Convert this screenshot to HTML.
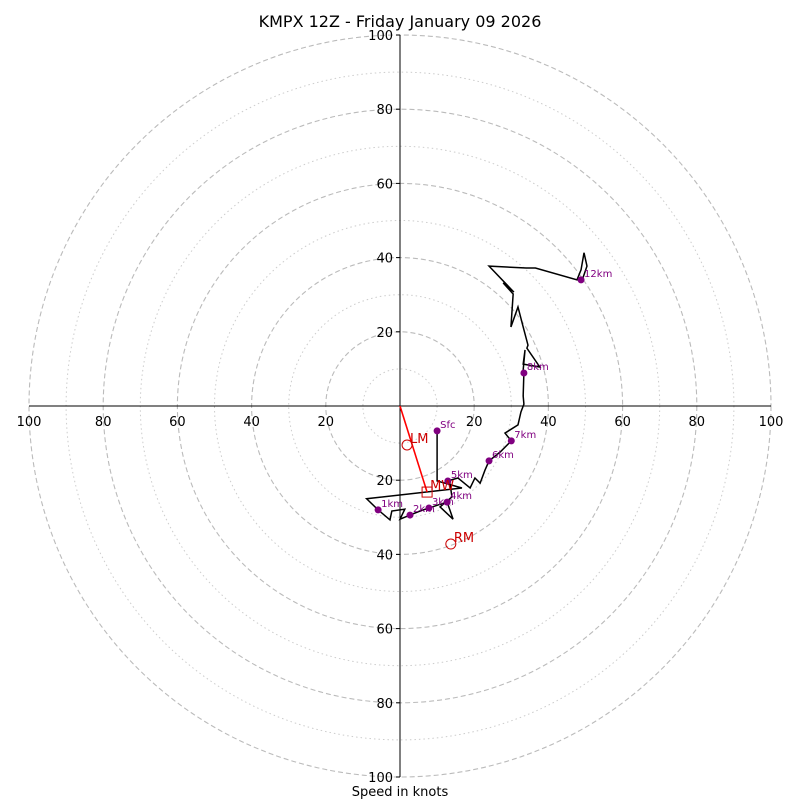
<!DOCTYPE html>
<html><head><meta charset="utf-8"><style>
body{margin:0;background:#fff}
svg{display:block;font-family:"DejaVu Sans","Liberation Sans",sans-serif}
</style></head><body>
<svg id="c" width="800" height="800">
<rect width="800" height="800" fill="#fff"/>
<text x="400" y="27" text-anchor="middle" font-size="16">KMPX 12Z - Friday January 09 2026</text>
<text x="400" y="796" text-anchor="middle" font-size="13">Speed in knots</text>
<g id="rings"></g><g id="axes"></g><g id="trace"></g><g id="marks"></g>
</svg>
<script>
const ringVals=[10,20,30,40,50,60,70,80,90,100];
const tickLabels=[20,40,60,80,100];
const traceU=[10,10,16.7,-9,-5.9,-2.7,-2.2,1.3,0,2.7,5.4,7.8,10.2,12.7,14.3,10.8,14,13.5,12.9,15.6,18.9,20.2,21.6,22.9,24,27,30,28.3,31.8,32.6,33.4,33.2,33.4,33.2,33.7,33.2,37.7,34.2,34.5,33.2,31.8,29.9,30.5,27.8,30.7,24,34,36.5,47.7,48.8,49.6,50.4,49.3];
const traceV=[-6.7,-20.2,-22.1,-25,-28,-30.7,-28.3,-27.8,-30.5,-29.4,-28.3,-27.5,-26.7,-25.9,-30.5,-27.2,-24.5,-21,-20.2,-19.4,-22.1,-19.4,-20.8,-17.3,-14.8,-12.4,-9.4,-7.3,-5.1,-1.6,0.5,2.7,9.2,9.7,15.1,11.3,10.5,15.6,16.4,21.3,26.7,21.3,30.2,33.2,30.7,37.7,37.2,37.2,34,36.7,41.3,37.7,34.5];
const levelNames=['Sfc','1km','2km','3km','4km','5km','6km','7km','8km','12km'];
const levelU=[10,-5.9,2.7,7.8,12.7,12.9,24,30,33.4,48.8];
const levelV=[-6.7,-28,-29.4,-27.5,-25.9,-20.2,-14.8,-9.4,8.9,34];
const motionNames=['LM','MW','RM'];
const motionU=[1.9,7.3,13.7];
const motionV=[-10.5,-23.2,-37.2];
const CX=400,CY=406,S=3.71;
const X=u=>CX+u*S, Y=v=>CY-v*S;
const NS='http://www.w3.org/2000/svg';
function mk(t,p,a){const e=document.createElementNS(NS,t);for(const k in a)e.setAttribute(k,a[k]);p.appendChild(e);return e;}
const rings=document.getElementById('rings');
ringVals.forEach(r=>{
 const major=r%20===0;
 const e=mk('circle',rings,{cx:CX,cy:CY,r:r*S,fill:'none',stroke:major?'#bbb':'#ccc','stroke-width':major?1.1:1,'stroke-dasharray':major?'5,3':'1.5,3'});
 
 
});
const ax=document.getElementById('axes');
mk('line',ax,{x1:X(-100),y1:CY,x2:X(100),y2:CY,stroke:'#000','stroke-width':1});
mk('line',ax,{x1:CX,y1:Y(100),x2:CX,y2:Y(-100),stroke:'#000','stroke-width':1});
tickLabels.forEach(t=>{
 [X(t),X(-t)].forEach(x=>{
  const e=mk('text',ax,{x:x,y:CY+20,'text-anchor':'middle','font-size':13});e.textContent=t;
  
  
 });
 [Y(t),Y(-t)].forEach(y=>{
  mk('line',ax,{x1:CX-4,y1:y,x2:CX,y2:y,stroke:'#000'});
  const e=mk('text',ax,{x:CX-7,y:y+5,'text-anchor':'end','font-size':13});e.textContent=t;
  
  
 });
});
const tr=document.getElementById('trace');
const pl=mk('polyline',tr,{points:traceU.map((u,i)=>X(u)+','+Y(traceV[i])).join(' '),fill:'none',stroke:'#000','stroke-width':1.5,'stroke-linejoin':'miter'});


const mkg=document.getElementById('marks');
const rl=mk('line',mkg,{x1:X(0),y1:Y(0),x2:X(motionU[1]),y2:Y(motionV[1]),stroke:'#f00','stroke-width':1.6});


levelNames.forEach((n,i)=>{
 const c=mk('circle',mkg,{cx:X(levelU[i]),cy:Y(levelV[i]),r:3.5,fill:'#800080'});
 
 
 const t=mk('text',mkg,{x:X(levelU[i])+3,y:Y(levelV[i])-3,'font-size':10,fill:'#800080'});t.textContent=n;
 
 
});
motionNames.forEach((n,i)=>{
 const x=X(motionU[i]),y=Y(motionV[i]);
 let e;
 if(n==='MW')e=mk('rect',mkg,{x:x-5,y:y-5,width:10,height:10,fill:'none',stroke:'#c00','stroke-width':1});
 else e=mk('circle',mkg,{cx:x,cy:y,r:5,fill:'none',stroke:'#c00','stroke-width':1});
 
 
 const t=mk('text',mkg,{x:x+3,y:y-2,'font-size':13,fill:'#c00'});t.textContent=n;
 
 
});
</script>
</body></html>
